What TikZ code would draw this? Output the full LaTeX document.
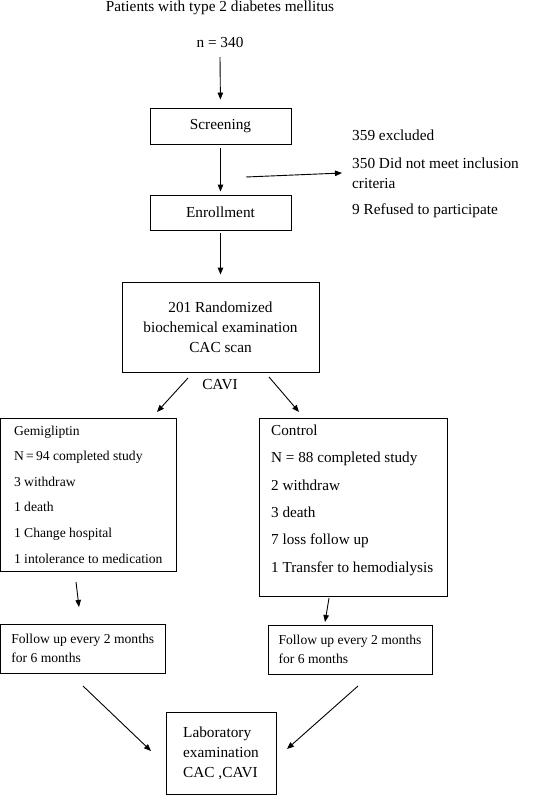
\documentclass[tikz,border=0pt]{standalone}
\usepackage{fontspec}
\setmainfont{Liberation Serif}
\usetikzlibrary{arrows.meta}
\begin{document}
\begin{tikzpicture}[x=1pt,y=-1pt,
  box/.style={draw,line width=0.9pt,inner sep=0pt,align=left},
  big/.style={font=\fontsize{15.3}{20}\selectfont},
  small/.style={font=\fontsize{13.6}{19}\selectfont},
  arr/.style={line width=0.9pt,-{Triangle[length=7pt,width=5.5pt]}}]
\useasboundingbox (0,0) rectangle (555,795);
% title and count
\node[big,inner sep=0pt] (title) at (220,7.5) {Patients with type 2 diabetes mellitus};
\node[big,inner sep=0pt] (n340) at (220,42) {n = 340};
% boxes
\node[box,big,minimum width=141pt,minimum height=36pt] (screen) at (220.5,126) {Screening};
\node[box,big,minimum width=141pt,minimum height=35pt] (enroll) at (220.5,212.5) {Enrollment};
\node[box,big,align=center,minimum width=197pt,minimum height=90pt] (rand) at (220.5,327)
  {201 Randomized\\biochemical examination\\CAC scan};
\node[big,inner sep=0pt] (cavi) at (220,385) {CAVI};
% exclusion text
\node[big,inner sep=0pt,anchor=north west,align=left] (excl) at (352,130)
  {359 excluded\\[8pt]350 Did not meet inclusion\\criteria\\[6pt]9 Refused to participate};
% groups
\node[box,minimum width=175.5pt,minimum height=153pt,font=\fontsize{13.6}{25.6}\selectfont] (gem) at (88.25,494.5)
  {Gemigliptin\\N\,=\,94 completed study\\3 withdraw\\1 death\\1 Change hospital\\1 intolerance to medication};
\node[box,minimum width=188pt,minimum height=178pt] (ctrl) at (353,507) {};
\node[inner sep=0pt,anchor=north west,align=left,font=\fontsize{15.2}{27.4}\selectfont] (ctrltext) at (271,424.5)
  {Control\\N = 88 completed study\\2 withdraw\\3 death\\7 loss follow up\\1 Transfer to hemodialysis};
% follow up
\node[box,small,minimum width=164.5pt,minimum height=49pt] (fol1) at (82.75,648.5)
  {Follow up every 2 months\\for 6 months};
\node[box,small,minimum width=164pt,minimum height=49pt] (fol2) at (350,649.5)
  {Follow up every 2 months\\for 6 months};
% lab
\node[box,big,minimum width=110pt,minimum height=82pt] (lab) at (221,753)
  {Laboratory\\examination\\CAC ,CAVI};
% arrow endpoints
\coordinate (a1s) at (220,57);
\coordinate (ex1) at (246,177);
\coordinate (ex2) at (342,173);
\coordinate (d1s) at (188,378);
\coordinate (d1e) at (157,412);
\coordinate (d2s) at (269,377);
\coordinate (d2e) at (299,412);
\coordinate (g1s) at (76,582);
\coordinate (g1e) at (79,607);
\coordinate (g2s) at (329,598);
\coordinate (g2e) at (325,622);
\coordinate (l1s) at (83,686);
\coordinate (l1e) at (151,751);
\coordinate (l2s) at (358,686);
\coordinate (l2e) at (287,749);
% arrows
\draw[arr,shorten >=8pt] (a1s) -- (screen.north);
\draw[arr,shorten <=4pt,shorten >=3pt] (screen.south) -- (enroll.north);
\draw[arr] (ex1) -- (ex2);
\draw[arr,shorten <=3pt,shorten >=7pt] (enroll.south) -- (rand.north);
\draw[arr] (d1s) -- (d1e);
\draw[arr] (d2s) -- (d2e);
\draw[arr] (g1s) -- (g1e);
\draw[arr] (g2s) -- (g2e);
\draw[arr] (l1s) -- (l1e);
\draw[arr] (l2s) -- (l2e);
\end{tikzpicture}
\end{document}
